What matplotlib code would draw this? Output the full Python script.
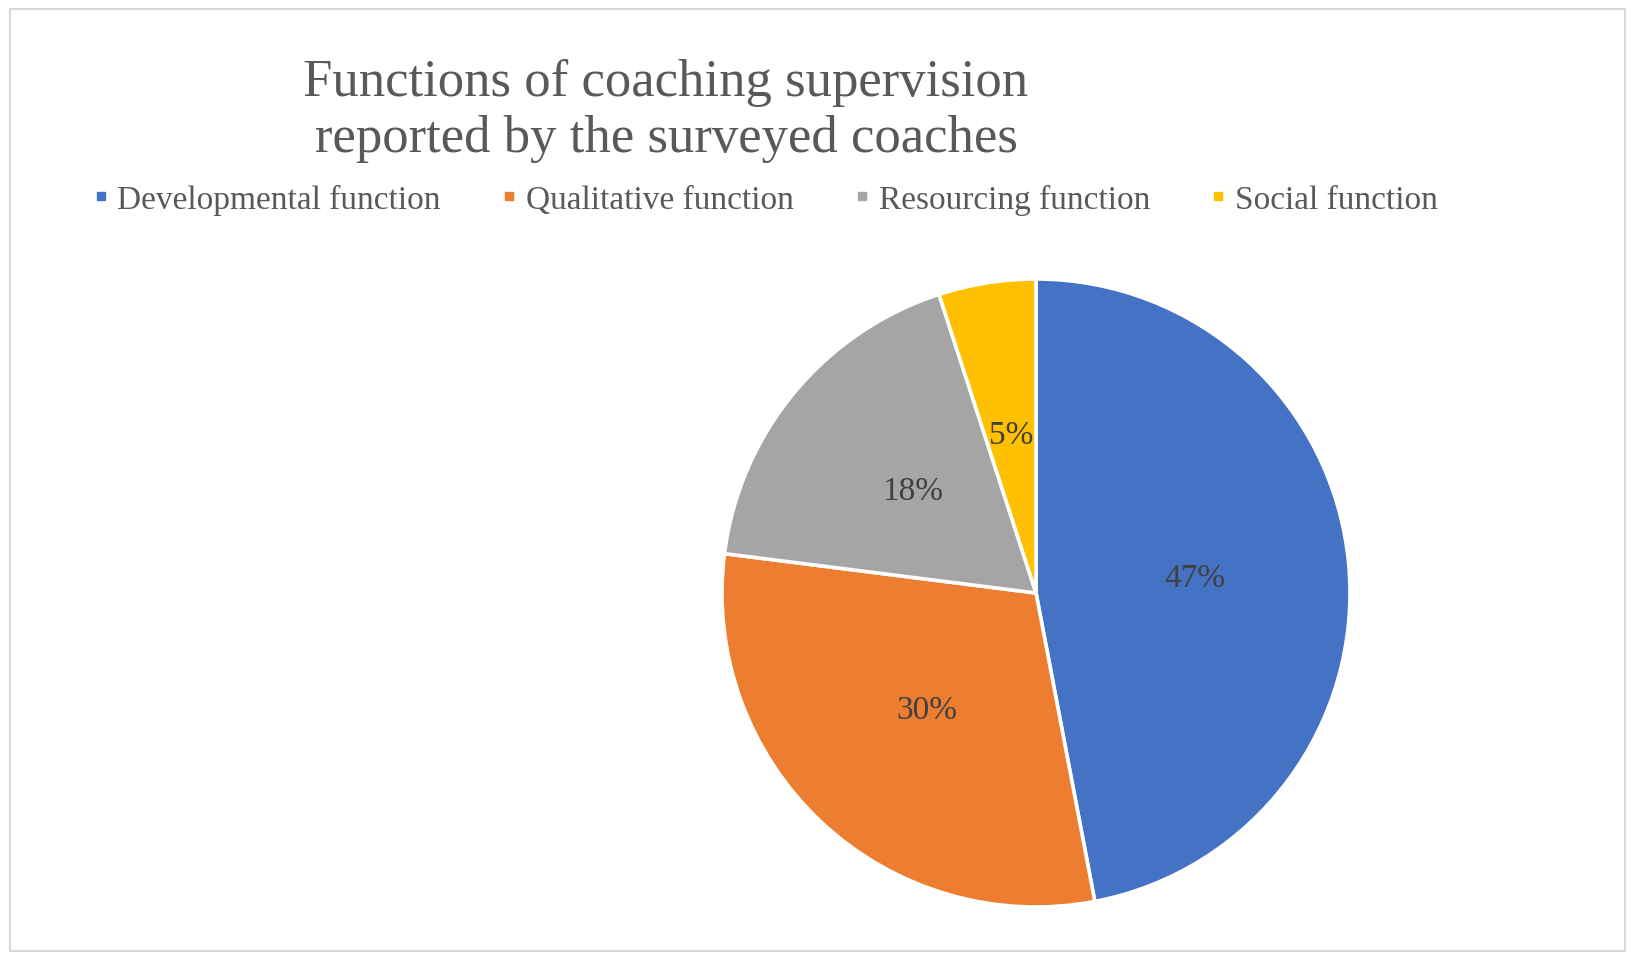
import matplotlib
matplotlib.use("Agg")
import matplotlib.pyplot as plt
from matplotlib.lines import Line2D
from matplotlib.patches import Rectangle

plt.rcParams['font.family'] = ['Liberation Serif', 'DejaVu Serif']

# data
labels = ['Developmental function', 'Qualitative function', 'Resourcing function', 'Social function']
shares = [47, 30, 18, 5]
colors = ['#4472C4', '#ED7D31', '#A5A5A5', '#FFC000']
title = 'Functions of coaching supervision\nreported by the surveyed coaches'

W, H = 1636, 962
fig = plt.figure(figsize=(W / 100, H / 100), dpi=100)

# light border around the chart area
fig.patches.append(Rectangle((10 / W, 10 / H), 1 - 21 / W, 1 - 20 / H, transform=fig.transFigure,
                             fill=False, edgecolor='#D9D9D9', linewidth=1.5))

# pie axes: center (1036, 594), radius 314 in pixels
cx, cy, r = 1036, 594, 314
ax = fig.add_axes([(cx - r) / W, (H - cy - r) / H, 2 * r / W, 2 * r / H])
wedges, texts, autotexts = ax.pie(shares, colors=colors, startangle=90, counterclock=False,
                                  autopct='%d%%', pctdistance=0.51, radius=1,
                                  wedgeprops=dict(edgecolor='white', linewidth=2.6),
                                  textprops=dict(fontsize=24, color='#404040'))
ax.set_xlim(-1, 1)
ax.set_ylim(-1, 1)
ax.set_aspect('equal')
ax.axis('off')

fig.text(666 / W, 1 - 111 / H, title, ha='center', va='center', fontsize=38,
         color='#595959', linespacing=1.22)

handles = [Line2D([], [], marker='s', linestyle='none', markersize=6, color=c) for c in colors]
fig.legend(handles, labels, loc='center', bbox_to_anchor=(766 / W, 1 - 200 / H), ncol=4,
           frameon=False, fontsize=24, handlelength=0.4, handletextpad=0.3,
           columnspacing=1.85, labelcolor='#595959', borderpad=0)

fig.savefig('out.png', dpi=100)
